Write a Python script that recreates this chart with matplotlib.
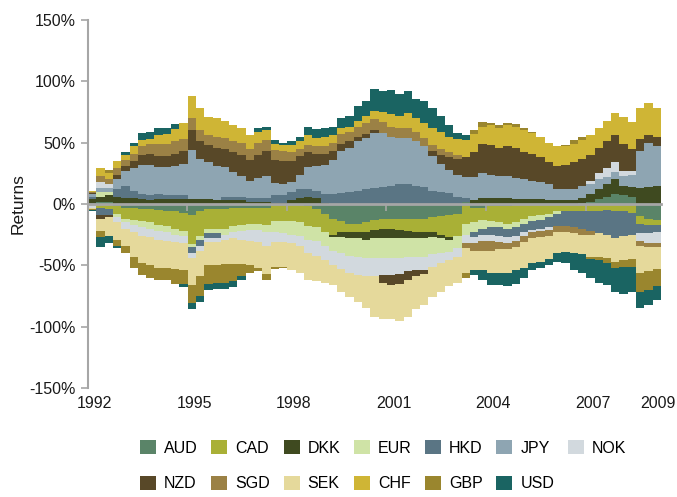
import numpy as np
import matplotlib
matplotlib.use("Agg")
import matplotlib.pyplot as plt
from matplotlib.patches import Patch

# quarterly contributions (%), starting late 1991
start_year = 1991.8
step = 0.25

currencies = ["AUD", "CAD", "DKK", "EUR", "HKD", "JPY", "NOK",
              "NZD", "SGD", "SEK", "CHF", "GBP", "USD"]

aud = [1, 2, 2, -2, -3, -3, -4, -4, -5, -6, -6, -7, -9, -6, -4, -4, -4, -3, -3, -3,
       -3, -3, 0, 0, 0, 0, -2, -4, -8, -12, -14, -16, -16, -15, -13, -12, -12, -12, -12, -12,
       -12, -11, -10, -9, -8, 2, -3, -3, -2, -2, -2, -1, 0, 0, 0, 0, 0, 0, 0, 1,
       2, 4, 6, 8, 7, 6, -10, -12, -13]
cad = [-1, -3, -4, -6, -9, -10, -10, -11, -12, -12, -14, -15, -24, -20, -16, -16, -16, -15, -14, -13,
       -13, -14, -14, -14, -14, -15, -16, -15, -15, -13, -9, -7, -7, -8, -8, -8, -8, -9, -10, -11,
       -11, -12, -15, -18, -18, -16, -12, -10, -12, -13, -14, -14, -12, -10, -9, -8, -6, -6, -6, -6,
       -6, -6, -5, -6, -6, -7, -6, -5, -4]
dkk = [3, 4, 5, 6, 5, 5, 4, 3, 4, 4, 4, 4, 4, 4, 4, 3, 3, 3, 3, 2,
       2, 2, 1, 1, 3, 5, 6, 5, 1, -2, -4, -5, -5, -6, -7, -8, -8, -7, -6, -5,
       -5, -4, -3, -2, 0, 0, 3, 5, 5, 5, 5, 4, 4, 4, 4, 3, 3, 3, 3, 4,
       6, 8, 10, 12, 8, 8, 13, 14, 15]
eur = [-1, 4, 3, -3, -3, -4, -5, -5, -5, -5, -5, -4, -2, -3, -4, -4, -5, -5, -5, -5,
       -5, -6, -9, -10, -11, -11, -11, -11, -11, -11, -13, -14, -15, -15, -16, -16, -16, -16, -15, -15,
       -15, -14, -12, -10, -10, -9, -8, -7, -5, -4, -4, -4, -4, -4, -4, -3, -2, 0, 0, 0,
       0, 0, 0, 0, 0, 0, 0, 0, 0]
hkd = [2, -6, -5, 6, 10, 6, 4, 4, 4, 3, 3, 3, -5, -5, -4, -4, 3, 3, 3, 3,
       3, 3, 6, 6, 7, 7, 6, 6, 7, 8, 9, 10, 11, 12, 13, 14, 15, 16, 16, 15,
       14, 11, 10, 9, 6, 3, -4, -5, -6, -7, -7, -7, -7, -7, -7, -8, -10, -12, -13, -14,
       -16, -18, -20, -22, -20, -18, -8, -7, -6]
jpy = [2, 3, 3, 8, 12, 18, 24, 25, 22, 23, 24, 26, 40, 33, 30, 28, 24, 20, 17, 14,
       16, 18, 10, 9, 8, 12, 18, 20, 24, 28, 34, 36, 40, 42, 45, 44, 40, 38, 38, 36,
       33, 28, 23, 19, 18, 17, 19, 20, 19, 18, 18, 17, 16, 15, 14, 13, 9, 9, 9, 10,
       8, 8, 6, 6, 8, 10, 30, 36, 32]
nok = [-1, 5, 3, -4, -5, -6, -7, -7, -7, -7, -6, -6, -4, -4, -3, -3, -4, -5, -7, -9,
       -10, -11, -8, -7, -7, -8, -11, -12, -12, -12, -13, -14, -15, -15, -15, -14, -14, -13, -12, -11,
       -11, -10, -8, -7, -7, -7, -5, -5, -5, -5, -5, -4, -3, -2, -2, -2, 0, 0, 0, 0,
       3, 5, 7, 8, 4, 3, -6, -8, -9]
nzd = [1, -3, -2, 4, 4, 6, 8, 9, 9, 9, 10, 10, 16, 14, 14, 15, 15, 16, 17, 17,
       19, 20, 19, 19, 17, 15, 12, 10, 9, 7, 6, 5, 4, 3, 2, -6, -8, -8, -7, -5,
       -3, 4, 7, 10, 13, 16, 20, 24, 24, 23, 24, 25, 22, 22, 20, 18, 19, 20, 22, 22,
       21, 21, 22, 22, 22, 18, 10, 6, 8]
sgd = [1, 5, 4, 5, 5, 6, 7, 8, 10, 10, 10, 10, 10, 9, 8, 9, 9, 9, 10, 9,
       10, 9, 8, 8, 7, 6, 6, 6, 6, 7, 8, 8, 8, 9, 9, 9, 8, 8, 8, 8,
       7, 5, 5, 4, 3, -4, -6, -8, -8, -6, -5, -5, -5, -5, -5, -5, -5, -5, -5, -5,
       -3, 0, 0, 0, 0, 0, -4, -3, -3]
sek = [-1, -10, -15, -14, -14, -20, -22, -23, -23, -22, -22, -22, -22, -21, -19, -19, -20, -21, -20, -20,
       -21, -23, -20, -20, -22, -22, -22, -21, -18, -16, -19, -20, -22, -26, -33, -30, -28, -30, -30, -27,
       -25, -25, -24, -21, -21, -20, -16, -16, -18, -19, -19, -19, -21, -20, -20, -19, -17, -16, -16, -16,
       -18, -19, -19, -19, -20, -20, -22, -20, -18]
chf = [1, 6, 5, 6, 4, 6, 5, 4, 7, 8, 10, 13, 18, 18, 15, 15, 14, 13, 12, 11,
       9, 8, 5, 5, 6, 6, 8, 7, 8, 6, 5, 4, 5, 6, 7, 8, 10, 10, 12, 11,
       12, 14, 14, 13, 13, 14, 15, 14, 16, 16, 17, 17, 18, 17, 17, 16, 16, 15, 15, 15,
       16, 16, 17, 18, 22, 22, 25, 26, 23]
gbp = [-1, -5, 3, -5, -6, -9, -10, -10, -10, -10, -12, -11, -15, -16, -15, -14, -15, -14, -10, -6,
       -3, -5, -2, -1, 0, 0, 0, 0, 0, 0, 0, 0, 0, 0, 0, 0, 0, 0, 0, 0,
       0, 0, 0, 0, 0, -4, 3, 4, 2, 2, 2, 2, 2, 1, 0, 0, 0, 1, 3, 3,
       -2, -3, -4, -5, -5, -6, -16, -15, -14]
usd = [-1, -8, -6, -2, 2, 3, 6, 6, 6, 5, 4, -3, -5, -5, -5, -5, -5, -5, -3, 0,
       3, 3, 3, 2, 3, 4, 7, 7, 7, 7, 8, 9, 12, 12, 18, 17, 20, 18, 18, 16,
       18, 16, 13, 9, 5, 4, -4, -8, -10, -10, -11, -11, -8, -6, -5, -5, -7, -9, -14, -15,
       -15, -18, -18, -20, -22, -21, -13, -12, -11]

series = [aud, cad, dkk, eur, hkd, jpy, nok, nzd, sgd, sek, chf, gbp, usd]
colors = ["#5A8468", "#A9B036", "#3F4A20", "#CFE3A6", "#5A7584", "#8EA5B2", "#D2D9DE",
          "#584828", "#9B8145", "#E5D99B", "#CFB535", "#9A862E", "#1A6462"]

n = len(aud)
dates = start_year + step * np.arange(n)
x_edges = np.append(dates, dates[-1] + step)

label_years = [1992, 1995, 1998, 2001, 2004, 2007, 2008.95]
label_text = ["1992", "1995", "1998", "2001", "2004", "2007", "2009"]

plt.rcParams["font.family"] = ["Liberation Sans", "DejaVu Sans"]
plt.rcParams["font.size"] = 11.5

fig = plt.figure(figsize=(6.77, 4.97), dpi=100)
ax = fig.add_axes([88 / 677, 1 - 388 / 497, (661 - 88) / 677, (388 - 20) / 497])

pos_base = np.zeros(n)
neg_base = np.zeros(n)
for vals, col in zip(series, colors):
    v = np.array(vals, dtype=float)
    pos = np.clip(v, 0, None)
    neg = np.clip(v, None, 0)
    for base, part in ((pos_base, pos), (neg_base, neg)):
        lo = np.append(base, base[-1])
        hi = np.append(base + part, base[-1] + part[-1])
        ax.fill_between(x_edges, lo, hi, step="post", color=col, linewidth=0,
                        antialiased=False, zorder=1)
    pos_base += pos
    neg_base += neg

grey = "#A6A6A6"
ax.set_xlim(x_edges[0], x_edges[-1])
ax.set_ylim(-150, 150)
ax.set_yticks(np.arange(-150, 151, 50))
ax.set_yticklabels([f"{t}%" for t in range(-150, 151, 50)])

for side in ("top", "right"):
    ax.spines[side].set_visible(False)
ax.spines["left"].set_color(grey)
ax.spines["left"].set_linewidth(1.5)
ax.spines["bottom"].set_position(("data", 0))
ax.spines["bottom"].set_color(grey)
ax.spines["bottom"].set_linewidth(2)
ax.spines["bottom"].set_zorder(3)

ax.set_xticks([y - 0.22 for y in label_years[1:-1]])
ax.tick_params(axis="x", direction="out", length=5, width=1.2, color=grey,
               labelbottom=False)
ax.tick_params(axis="y", direction="out", length=5, width=1.2, color=grey,
               pad=4, labelcolor="#1a1a1a")

sec = ax.secondary_xaxis("bottom")
sec.set_xticks(label_years)
sec.set_xticklabels(label_text)
sec.spines["bottom"].set_visible(False)
sec.tick_params(length=0, pad=6, labelcolor="#1a1a1a")

ax.set_ylabel("Returns", color="#1a1a1a", fontsize=12.5)
ax.yaxis.set_label_coords((26 - 88) / 573, 0.5)

order = [0, 7, 1, 8, 2, 9, 3, 10, 4, 11, 5, 12, 6]
handles = [Patch(facecolor=colors[i], edgecolor="none") for i in order]
labels = [currencies[i] for i in order]
fig.legend(handles, labels, ncol=7, loc="upper left",
           bbox_to_anchor=(132 / 677, 1 - 432 / 497), frameon=False,
           borderpad=0, handlelength=1.0, handleheight=1.0, handletextpad=0.5,
           columnspacing=0.85, labelspacing=1.25, fontsize=11.5)

fig.savefig("out.png", dpi=100)
